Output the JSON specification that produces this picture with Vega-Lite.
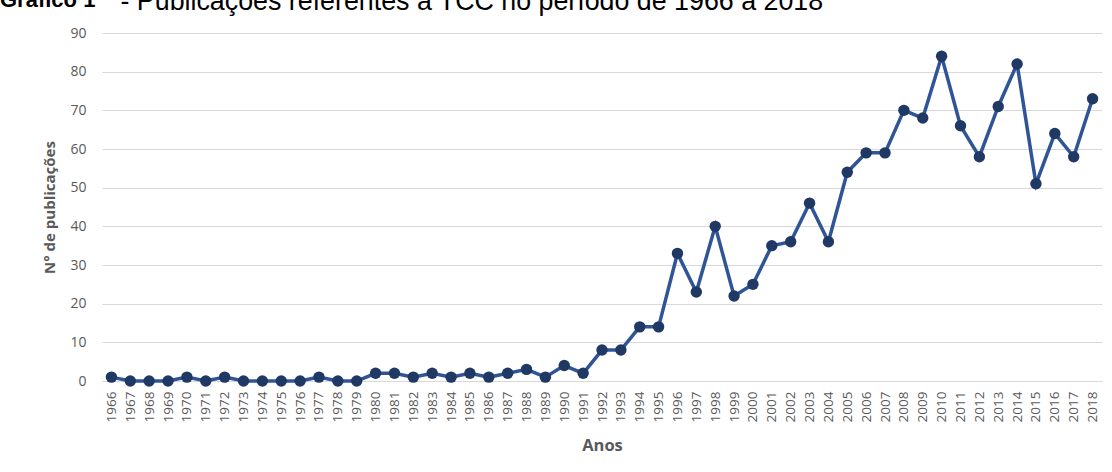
{
  "$schema": "https://vega.github.io/schema/vega-lite/v6.json",
  "width": 1000,
  "height": 348,
  "autosize": {"type": "none"},
  "padding": {"left": 102, "top": 33, "right": 10, "bottom": 91},
  "background": "white",
  "title": {
    "text": "Gráfico 1",
    "anchor": "start",
    "frame": "group",
    "dx": -102,
    "offset": -24,
    "font": "Liberation Sans",
    "fontSize": 22,
    "fontWeight": "bold",
    "color": "#000000",
    "baseline": "top"
  },
  "data": {
    "values": [
      {"ano": "1966", "n": 1}, {"ano": "1967", "n": 0}, {"ano": "1968", "n": 0},
      {"ano": "1969", "n": 0}, {"ano": "1970", "n": 1}, {"ano": "1971", "n": 0},
      {"ano": "1972", "n": 1}, {"ano": "1973", "n": 0}, {"ano": "1974", "n": 0},
      {"ano": "1975", "n": 0}, {"ano": "1976", "n": 0}, {"ano": "1977", "n": 1},
      {"ano": "1978", "n": 0}, {"ano": "1979", "n": 0}, {"ano": "1980", "n": 2},
      {"ano": "1981", "n": 2}, {"ano": "1982", "n": 1}, {"ano": "1983", "n": 2},
      {"ano": "1984", "n": 1}, {"ano": "1985", "n": 2}, {"ano": "1986", "n": 1},
      {"ano": "1987", "n": 2}, {"ano": "1988", "n": 3}, {"ano": "1989", "n": 1},
      {"ano": "1990", "n": 4}, {"ano": "1991", "n": 2}, {"ano": "1992", "n": 8},
      {"ano": "1993", "n": 8}, {"ano": "1994", "n": 14}, {"ano": "1995", "n": 14},
      {"ano": "1996", "n": 33}, {"ano": "1997", "n": 23}, {"ano": "1998", "n": 40},
      {"ano": "1999", "n": 22}, {"ano": "2000", "n": 25}, {"ano": "2001", "n": 35},
      {"ano": "2002", "n": 36}, {"ano": "2003", "n": 46}, {"ano": "2004", "n": 36},
      {"ano": "2005", "n": 54}, {"ano": "2006", "n": 59}, {"ano": "2007", "n": 59},
      {"ano": "2008", "n": 70}, {"ano": "2009", "n": 68}, {"ano": "2010", "n": 84},
      {"ano": "2011", "n": 66}, {"ano": "2012", "n": 58}, {"ano": "2013", "n": 71},
      {"ano": "2014", "n": 82}, {"ano": "2015", "n": 51}, {"ano": "2016", "n": 64},
      {"ano": "2017", "n": 58}, {"ano": "2018", "n": 73}
    ]
  },
  "encoding": {
    "x": {
      "field": "ano",
      "type": "ordinal",
      "scale": {"type": "point", "padding": 0.5},
      "axis": {
        "title": "Anos",
        "labelAngle": -90,
        "labelPadding": 10,
        "labelFont": "Open Sans",
        "labelFontSize": 13.5,
        "labelColor": "#595959",
        "ticks": false,
        "domainColor": "#D9D9D9",
        "domainWidth": 1,
        "titleFont": "Open Sans",
        "titleFontSize": 16.5,
        "titleFontWeight": "bold",
        "titleColor": "#595959",
        "titlePadding": 16
      }
    },
    "y": {
      "field": "n",
      "type": "quantitative",
      "scale": {"domain": [0, 90], "nice": false},
      "axis": {
        "title": "N° de publicações",
        "values": [0, 10, 20, 30, 40, 50, 60, 70, 80, 90],
        "labelFont": "Open Sans",
        "labelFontSize": 14,
        "labelColor": "#595959",
        "labelPadding": 16,
        "ticks": false,
        "domain": false,
        "gridColor": "#D9D9D9",
        "gridWidth": 1,
        "titleFont": "Open Sans",
        "titleFontSize": 15,
        "titleFontWeight": "bold",
        "titleColor": "#595959",
        "titlePadding": 12
      }
    }
  },
  "layer": [
    {"mark": {"type": "line", "color": "#2F5597", "strokeWidth": 3.5}},
    {
      "mark": {"type": "point", "filled": true, "color": "#1F3864", "opacity": 1, "size": 130},
      "encoding": {
        "x": {
          "field": "ano",
          "type": "ordinal",
          "scale": {"type": "point", "padding": 0.5},
          "axis": {
            "orient": "top",
            "labels": false,
            "ticks": false,
            "domain": false,
            "grid": false,
            "title": "- Publicações referentes a TCC no período de 1966 a 2018",
            "titleX": 18,
            "titleY": -24,
            "titleAngle": 0,
            "titleAlign": "left",
            "titleAnchor": "start",
            "titleBaseline": "alphabetic",
            "titleFont": "Liberation Sans",
            "titleFontSize": 26.8,
            "titleFontWeight": "normal",
            "titleColor": "#000000",
            "titlePadding": 0
          }
        }
      }
    }
  ],
  "resolve": {"axis": {"x": "independent"}},
  "config": {"view": {"stroke": null}}
}
